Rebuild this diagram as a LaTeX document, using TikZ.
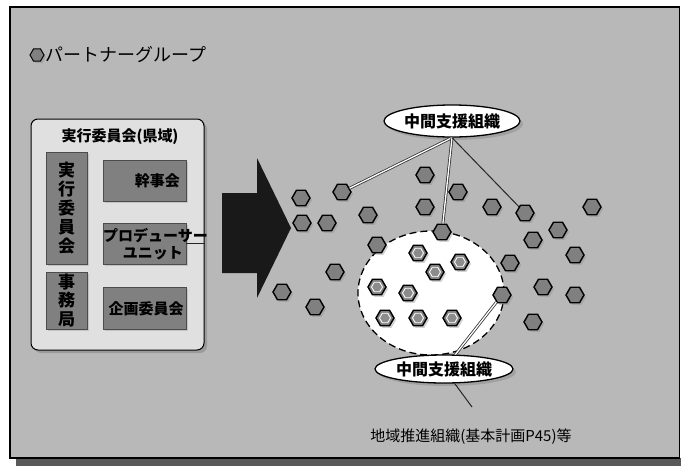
\documentclass[tikz,border=0pt]{standalone}
\usepackage{fontspec}
\newfontfamily\jp{Noto Sans CJK JP}
\usetikzlibrary{shapes.geometric,shadows}
\tikzset{
  hexa/.style={regular polygon, regular polygon sides=6, minimum size=18pt, inner sep=0pt,
    draw=black, line width=1.4pt, fill=black!50,
    drop shadow={shadow xshift=2pt, shadow yshift=-2pt, opacity=0.35}},
  hexcore/.style={regular polygon, regular polygon sides=6, minimum size=11pt, inner sep=0pt,
    draw=white, line width=0.9pt, fill=black!45},
  darkbox/.style={draw=black!70, line width=0.8pt, fill=black!50, inner sep=0pt,
    drop shadow={shadow xshift=2pt, shadow yshift=-2pt, opacity=0.3}},
  callout/.style={ellipse, draw=black, line width=1.3pt, fill=white, inner sep=0pt,
    drop shadow={shadow xshift=3pt, shadow yshift=-3pt, opacity=0.4}},
  dbl/.style={draw=black!80, line width=0.8pt, double=white, double distance=1.3pt},
  sgl/.style={draw=black!85, line width=1pt},
  lbl/.style={font=\jp\bfseries\fontsize{15}{17}\selectfont, inner sep=0pt},
}
\begin{document}
\begin{tikzpicture}[x=1pt,y=-1pt]
\useasboundingbox (0,0) rectangle (681,466);
\fill[white] (0,0) rectangle (681,466);
% frame with bottom shadow
\fill[black!65] (16,458) rectangle (681,466);
\draw[line width=1.5pt, fill=black!28] (10,7) rectangle (679.5,458);

% title
\node[hexa, minimum size=14pt, line width=1pt] (ticon) at (37,55) {};
\node[anchor=west, font=\jp\fontsize{18}{20}\selectfont, inner sep=0pt] (title) at (45,55) {パートナーグループ};

% left committee box
\node[draw=black, line width=1pt, rounded corners=7pt, fill=black!12, minimum width=173pt, minimum height=231pt,
  drop shadow={shadow xshift=3pt, shadow yshift=-3pt, opacity=0.5}] (outer) at (117.5,234.5) {};
\node[lbl] (otitle) at (120,137) {実行委員会(県域)};

\node[darkbox, minimum width=41pt, minimum height=112pt] (jikko) at (66.5,208) {};
\node[lbl, font=\jp\bfseries\fontsize{17}{19}\selectfont, align=center] at (jikko) {実\\行\\委\\員\\会};
\node[darkbox, minimum width=41pt, minimum height=57pt] (jimu) at (66.5,300.5) {};
\node[lbl, font=\jp\bfseries\fontsize{17}{18.5}\selectfont, align=center] at (jimu) {事\\務\\局};

\node[darkbox, minimum width=83pt, minimum height=41pt] (kanji) at (144.5,180.5) {};
\node[lbl, anchor=east] at (180,181) {幹事会};
\node[darkbox, minimum width=83pt, minimum height=41pt] (pu) at (144.5,243.5) {};
\node[lbl, anchor=west] at (103,236) {プロデューサー};
\node[lbl, anchor=east] at (183,253) {ユニット};
\node[darkbox, minimum width=83pt, minimum height=42pt] (kikaku) at (144.5,308) {};
\node[lbl] at (146,309) {企画委員会};
\draw[sgl] (pu.east) -- (pu.east -| outer.east);

% big arrow
\fill[black!90] (222,193) -- (257,193) -- (257,158) -- (291,228) -- (257,298) -- (257,273) -- (222,273) -- cycle;

% dashed circle
\draw[dashed, dash pattern=on 7pt off 4pt, line width=1.3pt, fill=white] (431,293) ellipse [x radius=73, y radius=62];

% hexagons outside
\foreach \n/\x/\y in {1/301/198, 2/342/192, 3/302/223, 4/327/223, 5/368/215, 6/425/175, 7/425/207,
  8/458/192, 9/492/207, 10/525/213, 11/592/207, 12/442/232, 13/558/230, 14/533/240, 15/377/245,
  16/575/255, 17/335/272, 18/510/263, 19/282/292, 20/315/307, 21/502/295, 22/543/287, 23/575/295, 24/533/322}
  \node[hexa] (h\n) at (\x,\y) {};
% hexagons inside
\foreach \n/\x/\y in {1/418/253, 2/435/272, 3/460/262, 4/377/287, 5/408/293, 6/385/318, 7/418/318, 8/452/318}
  {\node[hexa] (i\n) at (\x,\y) {};
   \node[hexcore] (ic\n) at (\x,\y) {};}

% callouts
\node[callout, minimum width=136pt, minimum height=32pt, font=\jp\bfseries\fontsize{16}{18}\selectfont] (mt) at (452,121) {中間支援組織};
\node[callout, minimum width=138pt, minimum height=28pt, font=\jp\bfseries\fontsize{16}{18}\selectfont] (mb) at (444,369) {中間支援組織};
\draw[dbl] (mt.south) -- (h2);
\draw[dbl] (mt.south) -- (h12);
\draw[sgl] (mt.south) -- (h10);
\draw[dbl] (mb) -- (h21);
\coordinate (cend) at (472,407);
\draw[sgl] (mb) -- (cend);

\node[lbl, font=\jp\fontsize{15}{17}\selectfont] (region) at (471,437) {地域推進組織(基本計画P45)等};
\end{tikzpicture}
\end{document}
